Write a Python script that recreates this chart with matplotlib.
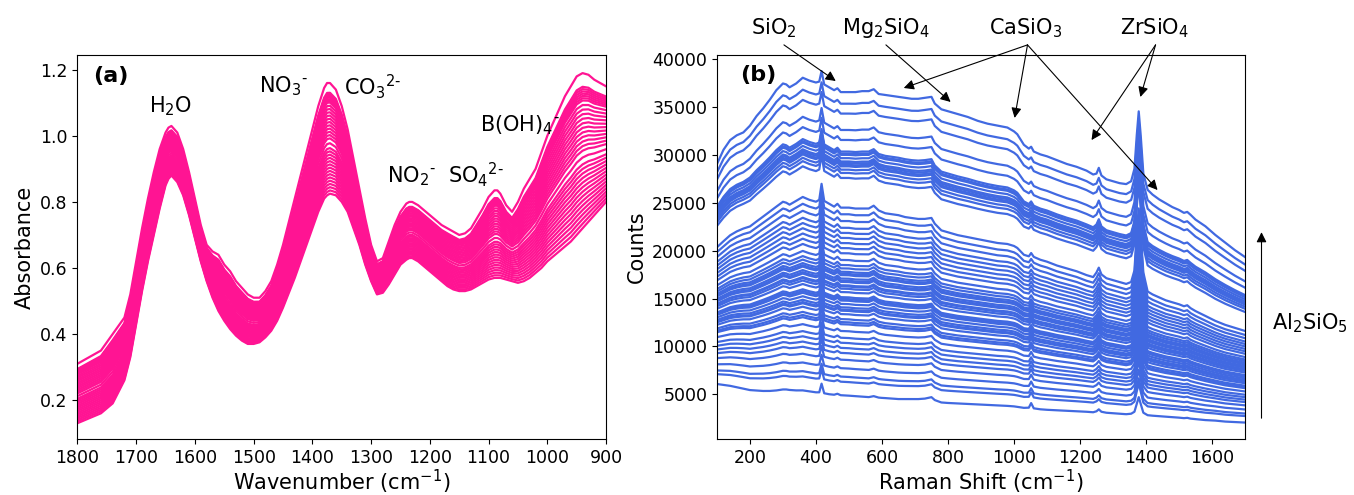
import numpy as np
import matplotlib
matplotlib.use("Agg")
import matplotlib.pyplot as plt

# ---- panel (a): FTIR absorbance ----
wn = [1800, 1780, 1760, 1740, 1720, 1710, 1700, 1690, 1680, 1670, 1660, 1650, 1645, 1640,
      1630, 1620, 1610, 1600, 1590, 1580, 1570, 1560, 1550, 1540, 1530, 1520, 1510, 1500,
      1490, 1480, 1470, 1460, 1450, 1440, 1430, 1420, 1410, 1400, 1390, 1380, 1375, 1370,
      1360, 1350, 1340, 1330, 1320, 1310, 1300, 1290, 1280, 1270, 1260, 1250, 1240, 1235,
      1230, 1220, 1210, 1200, 1190, 1180, 1170, 1160, 1150, 1140, 1130, 1120, 1110, 1100,
      1090, 1085, 1080, 1070, 1060, 1050, 1040, 1030, 1020, 1010, 1000, 990, 980, 970,
      960, 950, 940, 930, 920, 910, 900]
abs_high = [.31, .33, .35, .40, .45, .52, .62, .72, .81, .89, .96, 1.01, 1.025, 1.03,
            1.01, .96, .89, .81, .73, .67, .65, .64, .61, .59, .56, .54, .52, .51,
            .51, .53, .56, .61, .67, .74, .81, .88, .95, 1.02, 1.09, 1.145, 1.16, 1.16,
            1.14, 1.09, 1.02, .93, .84, .75, .67, .62, .63, .68, .73, .77, .795, .80,
            .80, .79, .775, .76, .745, .73, .72, .71, .70, .705, .72, .75, .78, .815,
            .835, .835, .825, .79, .77, .80, .84, .87, .90, .95, 1.00, 1.04, 1.08, 1.12,
            1.15, 1.18, 1.19, 1.185, 1.17, 1.16, 1.15]
abs_low = [.13, .145, .16, .19, .26, .33, .43, .53, .62, .70, .78, .85, .87, .88,
           .86, .82, .76, .69, .62, .56, .51, .47, .44, .415, .395, .38, .37, .37,
           .375, .39, .41, .44, .48, .525, .57, .62, .67, .72, .77, .81, .82, .825,
           .82, .80, .77, .72, .67, .61, .56, .52, .525, .55, .58, .61, .625, .63,
           .63, .62, .605, .59, .575, .56, .545, .535, .53, .53, .535, .545, .555, .565,
           .57, .57, .57, .565, .56, .555, .56, .57, .585, .60, .62, .635, .65, .665,
           .68, .70, .72, .74, .76, .78, .80]
# height of each spectrum at the NO3- band (1375 cm-1)
nitrate_peaks = [1.16, 1.13, 1.125, 1.12, 1.115, 1.11, 1.105, 1.10, 1.09, 1.08, 1.07, 1.06,
                 1.05, 1.04, 1.03, 1.02, 1.01, 1.0, 0.99, 0.975, 0.96, 0.95, 0.94, 0.93,
                 0.92, 0.91, 0.90, 0.89, 0.88, 0.87, 0.86, 0.85, 0.84, 0.83, 0.82]

# ---- panel (b): Raman counts ----
shift = [100, 120, 140, 160, 180, 200, 220, 240, 260, 280, 300, 310, 320, 340, 360, 380, 400,
         410, 417, 425, 440, 455, 465, 475, 500, 520, 540, 560, 575, 590, 600, 610, 630, 650,
         670, 690, 710, 730, 750, 760, 780, 800, 830, 860, 890, 920, 950, 980, 1000, 1010,
         1030, 1045, 1052, 1060, 1080, 1100, 1130, 1160, 1190, 1220, 1240, 1250, 1257, 1265,
         1280, 1300, 1320, 1340, 1355, 1365, 1372, 1378, 1384, 1392, 1405, 1420, 1440, 1460,
         1480, 1500, 1515, 1525, 1535, 1550, 1580, 1610, 1640, 1670, 1700]
counts_top = [29000, 30500, 31500, 32000, 32300, 33000, 34000, 34800, 35700, 36700, 37400,
              37300, 37000, 37400, 38000, 37700, 37500, 37600, 38700, 37300, 37000, 36700,
              36900, 36500, 36500, 36500, 36600, 36600, 36800, 36300, 36250, 36200, 36100,
              36000, 35900, 35800, 35800, 35900, 36000, 35300, 34700, 34500, 34200, 33900,
              33500, 33200, 33000, 32800, 32400, 32100, 31000, 30600, 30800, 30300, 30000,
              29800, 29400, 29000, 28700, 28300, 27900, 28000, 28600, 27800, 27400, 27200,
              27000, 26900, 27200, 28500, 32000, 34500, 32000, 28000, 26300, 25800, 25300,
              24900, 24500, 24200, 23900, 24000, 23700, 23200, 22500, 21600, 20800, 20000,
              19300]
counts_mid = [20000, 20600, 21200, 21600, 21900, 22100, 22600, 23100, 23600, 24100, 24600,
              24500, 24300, 24700, 25100, 24800, 24600, 24800, 26500, 24700, 24400, 24100,
              24400, 24000, 24000, 23900, 23900, 23900, 24200, 23700, 23550, 23400, 23300,
              23200, 23000, 22900, 22800, 22800, 22900, 22300, 21600, 21400, 21100, 20900,
              20700, 20500, 20300, 20200, 20000, 19800, 19100, 18950, 19300, 18900, 18600,
              18400, 18000, 17700, 17400, 17000, 16800, 17300, 17800, 17100, 16700, 16500,
              16300, 16100, 16300, 17500, 21500, 24000, 21500, 17300, 15300, 15000, 14700,
              14400, 14200, 14000, 13800, 13900, 13600, 13300, 12800, 12300, 11900, 11600,
              11300]
counts_low = [6000, 5900, 5800, 5650, 5500, 5350, 5300, 5250, 5250, 5300, 5400, 5400, 5350,
              5300, 5300, 5200, 5100, 5100, 6000, 5000, 4900, 4850, 4950, 4800, 4750, 4700,
              4650, 4600, 4700, 4550, 4520, 4500, 4450, 4400, 4400, 4400, 4400, 4450, 4600,
              4300, 4050, 4000, 3950, 3900, 3850, 3800, 3750, 3700, 3650, 3600, 3500, 3520,
              4000, 3450, 3350, 3300, 3250, 3200, 3150, 3100, 3050, 3150, 3350, 3100, 3000,
              2950, 2900, 2850, 2900, 3100, 3900, 4600, 3900, 3000, 2750, 2700, 2650, 2600,
              2550, 2500, 2450, 2480, 2400, 2350, 2250, 2200, 2100, 2050, 2000]
# level of each spectrum at 600 cm-1
levels_600 = [36320, 35090, 34040, 32300, 31240, 30010, 29800, 29660, 29310, 28960, 28790,
              28600, 28440, 28090, 27740, 27210, 24060, 23360, 22660, 21960, 21430, 20910,
              20380, 19860, 19330, 18630, 18110, 17760, 17410, 17200, 17060, 16710, 16500,
              16360, 16010, 15900, 15660, 15310, 14780, 14600, 14430, 14080, 13730, 13500,
              13380, 13030, 12510, 12200, 11980, 11280, 10580, 10060, 9530, 9010, 8310,
              7430, 6560, 6030, 4630]

pink = '#FF1493'
blue = '#4169E1'

fig = plt.figure(figsize=(13.54, 4.95), dpi=100)
ax1 = fig.add_axes([0.0572, 0.113, 0.3904, 0.776])
ax2 = fig.add_axes([0.5295, 0.113, 0.390, 0.776])

# (a)
hi = np.array(abs_high)
lo = np.array(abs_low)
k = wn.index(1375)
for h in nitrate_peaks:
    w = (h - abs_low[k]) / (abs_high[k] - abs_low[k])
    ax1.plot(wn, lo + w * (hi - lo), color=pink, lw=1.6)
ax1.set_xlim(1800, 900)
ax1.set_ylim(0.082, 1.245)
ax1.set_xlabel('Wavenumber (cm$^{-1}$)', fontsize=15, labelpad=1)
ax1.set_ylabel('Absorbance', fontsize=15)
ax1.tick_params(labelsize=12.5)
ax1.text(1743, 1.18, '(a)', fontsize=16, fontweight='bold', ha='center', va='center')
ax1.text(1641, 1.089, 'H$_2$O', fontsize=15, ha='center', va='center')
ax1.text(1449, 1.15, r'NO$_3$$^{\text{-}}$', fontsize=15, ha='center', va='center')
ax1.text(1297, 1.15, r'CO$_3$$^{\text{2-}}$', fontsize=15, ha='center', va='center')
ax1.text(1232, 0.877, r'NO$_2$$^{\text{-}}$', fontsize=15, ha='center', va='center')
ax1.text(1121, 0.882, r'SO$_4$$^{\text{2-}}$', fontsize=15, ha='center', va='center')
ax1.text(1047, 1.033, r'B(OH)$_4$$^{\text{-}}$', fontsize=15, ha='center', va='center')

# (b)
top = np.array(counts_top)
mid = np.array(counts_mid)
low = np.array(counts_low)
i600 = shift.index(600)
for lev in levels_600:
    if lev >= counts_mid[i600]:
        w = (lev - counts_mid[i600]) / (counts_top[i600] - counts_mid[i600])
        y = mid + w * (top - mid)
    else:
        w = (lev - counts_low[i600]) / (counts_mid[i600] - counts_low[i600])
        y = low + w * (mid - low)
    ax2.plot(shift, y, color=blue, lw=1.6)
ax2.set_xlim(100, 1700)
ax2.set_ylim(330, 40450)
ax2.set_xlabel('Raman Shift (cm$^{-1}$)', fontsize=15, labelpad=1)
ax2.set_ylabel('Counts', fontsize=15)
ax2.tick_params(labelsize=12.5)
ax2.text(224, 38360, '(b)', fontsize=16, fontweight='bold', ha='center', va='center')

arrow = dict(arrowstyle='-|>', color='k', lw=0.8, mutation_scale=15, shrinkA=0, shrinkB=0)
labels_b = [('SiO$_2$', 271, [(303, 41500, 460, 37730)]),
            ('Mg$_2$SiO$_4$', 612, [(612, 41500, 808, 35540)]),
            ('CaSiO$_3$', 1035, [(1041, 41500, 666, 37000), (1041, 41500, 1002, 33870),
                                 (1041, 41500, 1435, 26340)]),
            ('ZrSiO$_4$', 1426, [(1429, 41500, 1383, 36060), (1429, 41500, 1235, 31560)])]
for name, xt, arrows in labels_b:
    ax2.text(xt, 43270, name, fontsize=15, ha='center', va='center', clip_on=False)
    for x0, y0, x1, y1 in arrows:
        ax2.annotate('', xy=(x1, y1), xytext=(x0, y0), arrowprops=arrow,
                     annotation_clip=False)
ax2.annotate('', xy=(1750, 21940), xytext=(1750, 2510), arrowprops=arrow,
             annotation_clip=False)
ax2.text(1783, 12440, 'Al$_2$SiO$_5$', fontsize=15, ha='left', va='center', clip_on=False)

fig.savefig('out.png', dpi=100)
